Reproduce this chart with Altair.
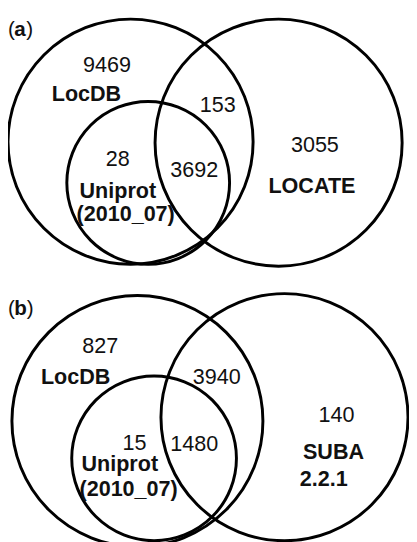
import altair as alt
import pandas as pd

# Circles (image pixel coordinates: centre x, centre y, radius)
circle_names = ["LocDB (a)", "LOCATE", "Uniprot (a)", "LocDB (b)", "SUBA", "Uniprot (b)"]
circle_cx = [133, 284, 151, 140, 290, 157]
circle_cy = [139, 140, 181, 424, 420, 462]
circle_r = [125, 126, 83, 128, 126, 84]

# Region counts (normal weight)
count_labels = ["9469", "153", "3055", "28", "3692", "827", "3940", "140", "15", "1480"]
count_x = [109, 222, 321, 120, 198, 102, 221, 343, 137, 198]
count_y = [61, 102, 143, 157, 168, 348, 379, 418, 447, 448]

# Set names (bold)
name_labels = ["LocDB", "LOCATE", "Uniprot", "(2010_07)", "LocDB", "SUBA", "2.2.1", "Uniprot", "(2010_07)"]
name_x = [88, 318, 120, 128, 77, 340, 330, 122, 131]
name_y = [91, 184, 189, 213, 379, 456, 483, 468, 493]

# Panel tags: parentheses normal, letters bold
paren_labels = ["(", ")", "(", ")"]
paren_x = [8, 26.5, 8, 27]
paren_y = [25, 25, 310, 310]
letter_labels = ["a", "b"]
letter_x = [14.5, 14.5]
letter_y = [25, 310]

circles = pd.DataFrame({"name": circle_names, "cx": circle_cx, "cy": circle_cy,
                        "size": [(2 * r) ** 2 for r in circle_r]})
counts = pd.DataFrame({"label": count_labels, "x": count_x, "y": count_y})
names = pd.DataFrame({"label": name_labels, "x": name_x, "y": name_y})
parens = pd.DataFrame({"label": paren_labels, "x": paren_x, "y": paren_y})
letters = pd.DataFrame({"label": letter_labels, "x": letter_x, "y": letter_y})

W, H = 409, 534
xs = alt.Scale(domain=[8, 8 + W], nice=False, zero=False)
ys = alt.Scale(domain=[8, 8 + H], nice=False, zero=False, reverse=True)
FONT = "Liberation Sans"
INK = "#111111"

circ = alt.Chart(circles).mark_point(shape="circle", filled=False, stroke="#000000",
                                     strokeWidth=3, opacity=1).encode(
    x=alt.X("cx:Q", scale=xs, axis=None),
    y=alt.Y("cy:Q", scale=ys, axis=None),
    size=alt.Size("size:Q", scale=None, legend=None),
)

cnt = alt.Chart(counts).mark_text(font=FONT, fontSize=22, color=INK, align="center",
                                  baseline="middle").encode(
    x=alt.X("x:Q", scale=xs, axis=None), y=alt.Y("y:Q", scale=ys, axis=None), text="label:N")

nm = alt.Chart(names).mark_text(font=FONT, fontSize=22, fontWeight="bold", color=INK,
                                align="center", baseline="middle").encode(
    x=alt.X("x:Q", scale=xs, axis=None), y=alt.Y("y:Q", scale=ys, axis=None), text="label:N")

pr = alt.Chart(parens).mark_text(font=FONT, fontSize=21, color=INK, align="left",
                                 baseline="middle").encode(
    x=alt.X("x:Q", scale=xs, axis=None), y=alt.Y("y:Q", scale=ys, axis=None), text="label:N")

lt = alt.Chart(letters).mark_text(font=FONT, fontSize=21, fontWeight="bold", color=INK,
                                  align="left", baseline="middle").encode(
    x=alt.X("x:Q", scale=xs, axis=None), y=alt.Y("y:Q", scale=ys, axis=None), text="label:N")

chart = alt.layer(circ, cnt, nm, pr, lt).properties(
    width=W, height=H, autosize=alt.AutoSizeParams(type="none"), padding=0,
    background="white",
).configure_view(stroke=None)

chart.save("out.html", embed_options={"renderer": "svg", "actions": False})
